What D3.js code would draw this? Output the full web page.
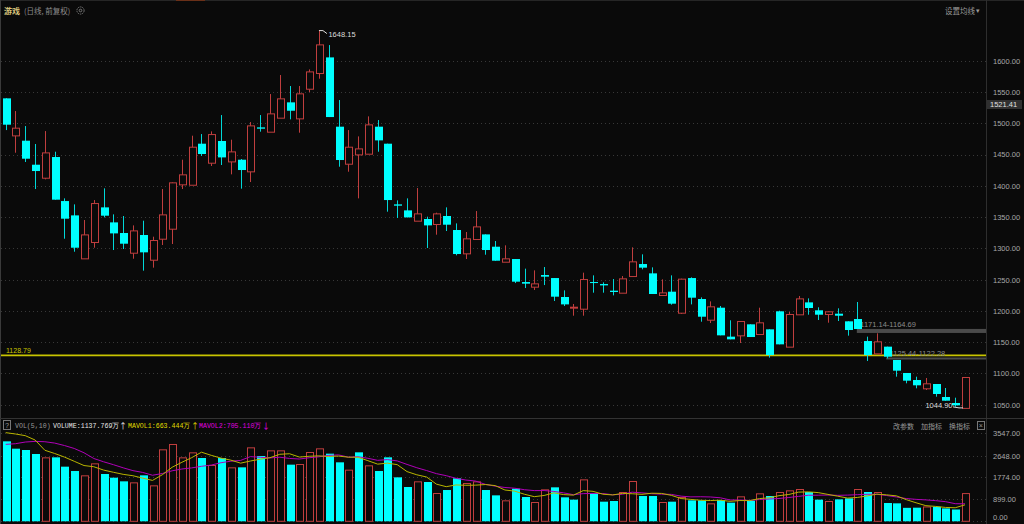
<!DOCTYPE html>
<html><head><meta charset="utf-8">
<script src="https://cdn.jsdelivr.net/npm/d3@7"></script>
<style>body{margin:0;background:#0a0a0a;overflow:hidden} svg{display:block}</style>
</head><body><svg id="c" width="1024" height="524"></svg>
<script>
// ---- data (daily candles, forward-adjusted) ----
const opens  = [1539.8,1480.6,1472.1,1433.7,1412.9,1446.0,1375.6,1352.7,1284.0,1310.1,1365.5,1341.5,1324.5,1293.0,1321.3,1281.8,1315.4,1331.4,1402.3,1401.7,1467.3,1436.9,1471.6,1439.0,1441.7,1423.1,1493.4,1486.5,1508.9,1533.4,1507.8,1555.2,1580.3,1605.3,1494.5,1435.3,1450.2,1451.3,1494.5,1467.3,1370.3,1360.7,1344.2,1346.9,1338.9,1351.7,1329.3,1292.0,1314.9,1322.3,1302.6,1278.6,1282.9,1246.1,1238.7,1257.3,1252.5,1222.2,1205.6,1203.5,1246.1,1242.9,1232.3,1229.1,1255.7,1274.9,1260.0,1225.4,1230.7,1197.1,1252.5,1219.0,1185.9,1205.1,1158.8,1160.9,1178.5,1163.0,1170.5,1199.3,1142.8,1194.5,1213.6,1200.9,1195.0,1195.5,1183.3,1187.0,1151.8,1132.1,1142.8,1121.5,1100.7,1089.5,1076.2,1083.1,1062.3,1052.7,1044.9];
const highs  = [1540.0,1519.5,1495.5,1466.8,1487.5,1454.5,1379.9,1370.3,1345.3,1377.2,1395.9,1354.3,1351.7,1336.7,1344.2,1318.6,1394.8,1405.5,1441.7,1480.1,1482.7,1487.0,1513.1,1473.7,1442.8,1501.9,1513.1,1546.7,1577.1,1559.5,1559.5,1586.1,1648.15,1625.0,1537.1,1489.1,1479.0,1511.0,1505.1,1467.3,1376.7,1379.9,1396.4,1350.6,1357.0,1365.5,1339.9,1326.1,1359.6,1322.3,1311.7,1304.8,1282.9,1267.5,1264.8,1270.1,1252.5,1232.8,1211.0,1261.1,1256.8,1245.6,1250.9,1255.7,1301.6,1290.4,1269.6,1250.4,1256.8,1251.5,1253.6,1221.6,1215.2,1207.8,1184.9,1183.8,1178.5,1205.1,1170.5,1200.3,1198.2,1223.8,1220.0,1205.7,1199.3,1204.1,1183.3,1214.2,1158.8,1164.1,1142.8,1121.5,1100.7,1094.8,1092.7,1083.1,1076.7,1061.2,1094.3];
const lows   = [1489.1,1452.9,1438.0,1394.8,1410.3,1377.8,1315.4,1294.6,1284.0,1301.0,1349.5,1297.3,1298.9,1283.4,1264.3,1269.1,1305.3,1306.9,1394.8,1401.7,1447.6,1431.6,1433.2,1418.3,1395.4,1406.0,1486.5,1486.5,1508.9,1506.2,1484.9,1549.9,1571.2,1509.9,1430.5,1422.5,1379.9,1451.3,1454.5,1358.6,1348.5,1349.5,1344.2,1300.5,1321.8,1327.7,1288.8,1282.9,1314.9,1289.8,1280.2,1278.6,1244.5,1236.5,1233.4,1241.3,1215.8,1207.8,1192.3,1192.3,1229.1,1229.1,1224.8,1229.1,1255.7,1266.4,1227.0,1225.4,1209.9,1195.0,1210.4,1182.7,1180.6,1160.9,1154.5,1148.6,1158.2,1163.0,1125.2,1146.5,1142.8,1194.5,1193.9,1185.4,1181.1,1183.8,1160.4,1171.0,1119.9,1132.1,1124.1,1094.8,1084.2,1076.2,1073.5,1062.8,1056.4,1046.8,1044.9];
const closes = [1497.7,1492.9,1443.3,1423.6,1453.4,1377.8,1347.4,1301.0,1322.3,1372.4,1352.2,1323.9,1307.4,1328.7,1293.6,1313.3,1354.3,1405.5,1418.3,1462.5,1450.8,1482.7,1445.4,1455.0,1425.2,1496.6,1491.3,1515.8,1539.8,1520.0,1547.8,1582.9,1626.1,1509.9,1441.2,1462.5,1459.8,1498.2,1472.6,1377.2,1368.2,1349.5,1355.9,1336.7,1355.9,1337.8,1290.9,1316.0,1335.1,1297.3,1280.2,1284.0,1246.7,1243.5,1244.0,1254.7,1222.7,1210.4,1206.7,1250.9,1244.5,1240.8,1230.2,1252.0,1279.2,1269.1,1227.0,1229.6,1211.5,1251.5,1221.1,1190.7,1207.3,1160.9,1154.5,1183.8,1158.2,1181.7,1129.4,1146.5,1195.0,1220.0,1204.6,1193.9,1199.3,1192.3,1169.4,1171.0,1129.4,1151.3,1126.8,1104.4,1088.4,1081.0,1084.2,1067.1,1056.4,1049.0,1094.3];
// volume, unit 万
const volumes = [3223,2927,2874,2713,2578,2578,2202,2027,1853,2336,1906,1758,1611,1570,1853,1449,2901,3116,2578,2780,2551,2269,2551,2175,2175,2981,2632,2860,2860,2283,2309,2793,2941,2726,2377,2081,2780,2256,2027,2578,1772,1382,1611,1584,1140,1261,1732,1543,1611,1261,1046,845,1315,979,778,1288,1369,966,872,1691,1140,791,818,1181,1624,1019,1019,778,791,979,845,845,724,858,751,1006,831,1127,1019,1181,1248,1302,1181,872,818,885,925,1302,1181,1181,737,724,543,549,598,585,520,476,1137.769];
// volumes of the 9 sessions before the visible window (read back from the MA lines)
const prevVolumes = [2657,2204,2443,2718,3118,3197,3209,3588,4648];
const priceTicks = [1050,1100,1150,1200,1250,1300,1350,1400,1450,1500,1550,1600];
const volTicks = [0,899,1774,2648,3547];
const supportLine = 1128.79;
const bands = [[1171.14,1164.69,87],[1125.44,1122.28,90]];
const maxPrice = 1648.15, minPrice = 1044.90, tagPrice = "1521.41";
const headerTexts = {vol:"VOLUME:1137.769万", ma1:"MAVOL1:663.444万", ma2:"MAVOL2:705.110万"};

// ---- drawing ----
const svg = d3.select("#c");
const BG="#0a0a0a", CY="#00ffff", CYW="#00d8d8", RD="#c03e3e", GRID="#383838", AX="#a8a8a8";
const n = opens.length, idx = d3.range(n);
const x = d3.scalePoint().domain(idx).range([5.7, 965.0]);
const w = Math.round(x.step()*0.68);
const yP = d3.scaleLinear().domain([1050,1600]).range([404.7,60.7]);
const yV = d3.scaleLinear().domain([0,3547]).range([521.3,433.3]);
const RIGHT = 986;

svg.append("rect").attr("width",1024).attr("height",524).attr("fill",BG);

// frame
svg.append("line").attr("x1",0).attr("x2",1024).attr("y1",0.5).attr("y2",0.5).attr("stroke","#262626");
svg.append("line").attr("x1",176).attr("x2",205).attr("y1",0.5).attr("y2",0.5).attr("stroke","#6a3018");
svg.append("line").attr("x1",0.5).attr("x2",0.5).attr("y1",0).attr("y2",524).attr("stroke","#3a3a3a");
svg.append("line").attr("x1",RIGHT+0.5).attr("x2",RIGHT+0.5).attr("y1",0).attr("y2",524).attr("stroke","#2e2e2e");
svg.append("line").attr("x1",0).attr("x2",1024).attr("y1",418.5).attr("y2",418.5).attr("stroke","#333");

// grids
svg.append("g").selectAll("line").data(priceTicks).join("line")
  .attr("x1",1).attr("x2",RIGHT).attr("y1",d=>Math.round(yP(d))+0.5).attr("y2",d=>Math.round(yP(d))+0.5)
  .attr("stroke",GRID).attr("stroke-dasharray","1,3");
svg.append("g").selectAll("line").data(volTicks).join("line")
  .attr("x1",1).attr("x2",RIGHT).attr("y1",d=>Math.round(yV(d))+0.5).attr("y2",d=>Math.round(yV(d))+0.5)
  .attr("stroke",GRID).attr("stroke-dasharray","1,3");

// axes
const fmt = d3.format(".2f");
const pa = svg.append("g").attr("transform",`translate(${RIGHT},0)`)
  .call(d3.axisRight(yP).tickValues(priceTicks).tickFormat(fmt).tickSize(0).tickPadding(7));
pa.select(".domain").remove();
pa.selectAll("text").attr("fill",AX).style("font","7.5px 'Liberation Sans', sans-serif");
const va = svg.append("g").attr("transform",`translate(${RIGHT},0)`)
  .call(d3.axisRight(yV).tickValues(volTicks).tickFormat(fmt).tickSize(0).tickPadding(7));
va.select(".domain").remove();
va.selectAll("text").attr("fill",AX).style("font","7.5px 'Liberation Sans', sans-serif")
  .attr("dy",(d)=> d===0 ? "-0.3em" : "0.32em");

// support line & bands
svg.append("line").attr("x1",1).attr("x2",RIGHT).attr("y1",yP(supportLine)).attr("y2",yP(supportLine))
  .attr("stroke","#c8c400").attr("stroke-width",1.6);
svg.append("text").attr("x",6).attr("y",yP(supportLine)-2.5).text(supportLine.toFixed(2))
  .attr("fill","#c8c400").style("font","7px 'Liberation Sans', sans-serif");
bands.forEach(([hi,lo,i])=>{
  svg.append("rect").attr("x",x(i)-0.5).attr("width",RIGHT-x(i)+0.5)
    .attr("y",yP(hi)).attr("height",Math.max(2,yP(lo)-yP(hi))).attr("fill","#4a4a4a");
  svg.append("text").attr("x",x(i)+3).attr("y",yP(hi)-1.5).text(hi.toFixed(2)+"-"+lo.toFixed(2))
    .attr("fill","#8a8a8a").style("font","7.5px 'Liberation Sans', sans-serif");
});

// candles
const up = i => closes[i] >= opens[i];
const cg = svg.append("g");
cg.selectAll("line").data(idx).join("line")
  .attr("x1",i=>Math.round(x(i))+0.5).attr("x2",i=>Math.round(x(i))+0.5)
  .attr("y1",i=>yP(highs[i])).attr("y2",i=>yP(lows[i]))
  .attr("stroke",i=>up(i)?RD:CYW);
cg.selectAll("rect").data(idx).join("rect")
  .attr("x",i=>Math.round(x(i))-Math.floor(w/2)+(up(i)?0.5:0))
  .attr("width",i=>up(i)?w:w+1)
  .attr("y",i=>yP(Math.max(opens[i],closes[i]))+(up(i)?0.5:0))
  .attr("height",i=>Math.max(1,Math.abs(yP(opens[i])-yP(closes[i]))))
  .attr("fill",i=>up(i)?BG:CY).attr("stroke",i=>up(i)?RD:"none");

// max / min markers
const xm = x(highs.indexOf(maxPrice)), ym = yP(maxPrice);
svg.append("polyline").attr("points",`${xm},${ym} ${xm+4},${ym} ${xm+8},${ym+3}`)
  .attr("fill","none").attr("stroke","#ddd");
svg.append("text").attr("x",xm+9.5).attr("y",ym+6.5).text(maxPrice.toFixed(2))
  .attr("fill","#ddd").style("font","7.5px 'Liberation Sans', sans-serif");
const xn = x(n-1), yn = yP(minPrice);
svg.append("polyline").attr("points",`${xn-12},${yn-1} ${xn-6},${yn} ${xn-2},${yn}`)
  .attr("fill","none").attr("stroke","#ddd");
svg.append("text").attr("x",xn-12.5).attr("y",yn).attr("text-anchor","end").text(minPrice.toFixed(2))
  .attr("fill","#ddd").style("font","7.5px 'Liberation Sans', sans-serif");

// current tag
svg.append("rect").attr("x",987).attr("y",100).attr("width",35).attr("height",9).attr("fill","#303030");
svg.append("text").attr("x",990).attr("y",107.3).text(tagPrice)
  .attr("fill","#e0e0e0").style("font","7.5px 'Liberation Sans', sans-serif");

// volume bars (colour vs previous close)
const volUp = i => i===0 ? up(0) : closes[i] >= closes[i-1];
const vg = svg.append("g");
vg.selectAll("rect").data(idx).join("rect")
  .attr("x",i=>Math.round(x(i))-Math.floor(w/2)+(volUp(i)?0.5:0))
  .attr("width",i=>volUp(i)?w:w+1)
  .attr("y",i=>yV(volumes[i])+(volUp(i)?0.5:0))
  .attr("height",i=>yV(0)-yV(volumes[i])-(volUp(i)?0.5:0))
  .attr("fill",i=>volUp(i)?BG:CY).attr("stroke",i=>volUp(i)?RD:"none");

// MAVOL lines
const all = prevVolumes.concat(volumes), off = prevVolumes.length;
const ma = k => idx.map(i => d3.mean(all.slice(i+off-k+1, i+off+1)));
const line = d3.line().x((d,i)=>x(i)).y(d=>yV(d));
svg.append("path").attr("d",line(ma(10))).attr("fill","none").attr("stroke","#b000b8").attr("stroke-width",1);
svg.append("path").attr("d",line(ma(5))).attr("fill","none").attr("stroke","#b8b400").attr("stroke-width",1);

// header text
const cjk = "'Noto Sans CJK SC', sans-serif";
svg.append("text").attr("x",4).attr("y",13.5).text("游戏").attr("fill","#d8c47c").style("font",`bold 8px ${cjk}`);
svg.append("text").attr("x",24).attr("y",13.5).text("(日线, 前复权)").attr("fill","#8c8c8c").style("font",`7.5px ${cjk}`);
svg.append("circle").attr("cx",80.5).attr("cy",10.5).attr("r",3.6).attr("fill","none").attr("stroke","#777").attr("stroke-dasharray","1.5,0.8");
svg.append("circle").attr("cx",80.5).attr("cy",10.5).attr("r",1.3).attr("fill","none").attr("stroke","#777");
svg.append("text").attr("x",945).attr("y",13.5).text("设置均线").attr("fill","#9a9a9a").style("font",`7.5px ${cjk}`);
svg.append("text").attr("x",976).attr("y",13).text("▾").attr("fill","#9a9a9a").style("font",`7px ${cjk}`);

// volume header
const mono = "'Liberation Mono', monospace";
svg.append("rect").attr("x",3.5).attr("y",420.5).attr("width",7).attr("height",9).attr("fill","none").attr("stroke","#777");
svg.append("text").attr("x",5).attr("y",428).text("?").attr("fill","#999").style("font",`7px ${mono}`);
svg.append("text").attr("x",15).attr("y",428).text("VOL(5,10)").attr("fill","#9a9a9a").style("font",`6.6px ${mono}`);
svg.append("text").attr("x",53).attr("y",428).text(headerTexts.vol).attr("fill","#e6e6e6").style("font",`6.6px ${mono}`);
svg.append("text").attr("x",119).attr("y",428.5).text("↑").attr("fill","#e6e6e6").style("font",`8px ${cjk}`);
svg.append("text").attr("x",128).attr("y",428).text(headerTexts.ma1).attr("fill","#e0dc00").style("font",`6.6px ${mono}`);
svg.append("text").attr("x",191).attr("y",428.5).text("↑").attr("fill","#e0dc00").style("font",`8px ${cjk}`);
svg.append("text").attr("x",199).attr("y",428).text(headerTexts.ma2).attr("fill","#e000e0").style("font",`6.6px ${mono}`);
svg.append("text").attr("x",262).attr("y",428.5).text("↓").attr("fill","#e000e0").style("font",`8px ${cjk}`);
[["改参数",893],["加指标",921],["换指标",949]].forEach(([t,px])=>{
  svg.append("text").attr("x",px).attr("y",428.5).text(t).attr("fill","#9a9a9a").style("font",`7px ${cjk}`);
});
svg.append("rect").attr("x",977.5).attr("y",421.5).attr("width",7).attr("height",8).attr("fill","none").attr("stroke","#777");
svg.append("text").attr("x",978.8).attr("y",428.3).text("×").attr("fill","#999").style("font",`7px ${mono}`);
</script></body></html>
